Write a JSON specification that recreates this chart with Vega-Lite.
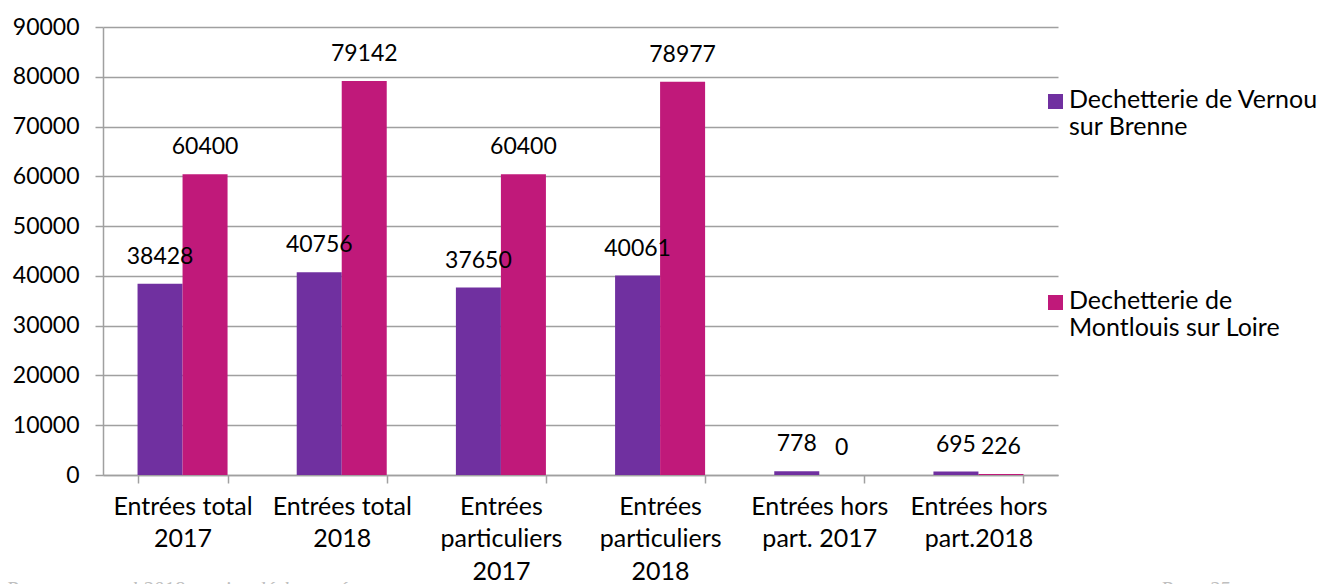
{
  "$schema": "https://vega.github.io/schema/vega-lite/v6.json",
  "width": 955,
  "height": 448,
  "autosize": {"type": "none"},
  "padding": {"left": 103, "top": 27, "right": 260, "bottom": 109},
  "background": "white",
  "config": {
    "view": {"stroke": null},
    "font": "Lato",
    "title": {"font": "Liberation Serif", "fontStyle": "italic", "fontWeight": "normal", "fontSize": 21, "color": "#BFBFBF"}
  },
  "title": {"text": "Rapport annuel 2018 service déchets ménagers", "orient": "bottom", "anchor": "start", "frame": "group", "dx": -97, "offset": -20},
  "data": {
    "values": [
      {"categorie": "Entrées total 2017", "site": "Dechetterie de Vernou sur Brenne", "entrees": 38428},
      {"categorie": "Entrées total 2017", "site": "Dechetterie de Montlouis sur Loire", "entrees": 60400},
      {"categorie": "Entrées total 2018", "site": "Dechetterie de Vernou sur Brenne", "entrees": 40756},
      {"categorie": "Entrées total 2018", "site": "Dechetterie de Montlouis sur Loire", "entrees": 79142},
      {"categorie": "Entrées particuliers 2017", "site": "Dechetterie de Vernou sur Brenne", "entrees": 37650},
      {"categorie": "Entrées particuliers 2017", "site": "Dechetterie de Montlouis sur Loire", "entrees": 60400},
      {"categorie": "Entrées particuliers 2018", "site": "Dechetterie de Vernou sur Brenne", "entrees": 40061},
      {"categorie": "Entrées particuliers 2018", "site": "Dechetterie de Montlouis sur Loire", "entrees": 78977},
      {"categorie": "Entrées hors part. 2017", "site": "Dechetterie de Vernou sur Brenne", "entrees": 778},
      {"categorie": "Entrées hors part. 2017", "site": "Dechetterie de Montlouis sur Loire", "entrees": 0},
      {"categorie": "Entrées hors part.2018", "site": "Dechetterie de Vernou sur Brenne", "entrees": 695},
      {"categorie": "Entrées hors part.2018", "site": "Dechetterie de Montlouis sur Loire", "entrees": 226}
    ]
  },
  "encoding": {
    "x": {
      "field": "categorie",
      "type": "nominal",
      "sort": null,
      "scale": {"paddingInner": 0.4345, "paddingOuter": 0.217},
      "axis": {
        "title": "Page 25",
        "titleX": 1057,
        "titleY": 103,
        "titleAlign": "left",
        "titleBaseline": "top",
        "titleAngle": 0,
        "titleFont": "Liberation Serif",
        "titleFontStyle": "italic",
        "titleFontWeight": "normal",
        "titleFontSize": 21,
        "titleColor": "#BFBFBF",
        "labelAngle": 0,
        "labelFontSize": 25,
        "labelColor": "#000000",
        "labelLineHeight": 32.5,
        "labelPadding": 11,
        "labelLimit": 0,
        "labelBaseline": "top",
        "labelExpr": "datum.label == 'Entrées total 2017' ? ['Entrées total', '2017'] : datum.label == 'Entrées total 2018' ? ['Entrées total', '2018'] : datum.label == 'Entrées particuliers 2017' ? ['Entrées', 'particuliers', '2017'] : datum.label == 'Entrées particuliers 2018' ? ['Entrées', 'particuliers', '2018'] : datum.label == 'Entrées hors part. 2017' ? ['Entrées hors', 'part. 2017'] : datum.label == 'Entrées hors part.2018' ? ['Entrées hors', 'part.2018'] : ''",
        "tickBand": "extent",
        "tickSize": 8,
        "tickColor": "#A0A0A0",
        "tickWidth": 1.5,
        "domainColor": "#A0A0A0",
        "domainWidth": 1.5,
        "grid": false
      }
    },
    "xOffset": {"field": "site", "type": "nominal", "sort": ["Dechetterie de Vernou sur Brenne", "Dechetterie de Montlouis sur Loire"]},
    "y": {
      "field": "entrees",
      "type": "quantitative",
      "scale": {"domain": [0, 90000], "nice": false},
      "axis": {
        "title": null,
        "values": [0, 10000, 20000, 30000, 40000, 50000, 60000, 70000, 80000, 90000],
        "format": "d",
        "labelFontSize": 23,
        "labelColor": "#000000",
        "labelPadding": 16,
        "tickSize": 8,
        "tickColor": "#A0A0A0",
        "tickWidth": 1.5,
        "domainColor": "#A0A0A0",
        "domainWidth": 1.5,
        "gridColor": "#A0A0A0",
        "gridWidth": 1.5
      }
    }
  },
  "layer": [
    {
      "mark": {"type": "bar"},
      "encoding": {
        "color": {
          "field": "site",
          "type": "nominal",
          "sort": ["Dechetterie de Vernou sur Brenne", "Dechetterie de Montlouis sur Loire"],
          "scale": {"domain": ["Dechetterie de Vernou sur Brenne", "Dechetterie de Montlouis sur Loire"], "range": ["#7030A0", "#C0197A"]},
          "legend": {
            "title": null,
            "orient": "none",
            "legendX": 940,
            "legendY": 68,
            "symbolType": "M-1,-1.8H1V0.2H-1Z",
            "symbolSize": 225,
            "symbolStrokeWidth": 0,
            "labelFontSize": 25,
            "labelColor": "#000000",
            "labelLineHeight": 32,
            "labelLimit": 400,
            "labelOffset": 1,
            "labelBaseline": "alphabetic",
            "rowPadding": 148,
            "labelExpr": "datum.label == 'Dechetterie de Vernou sur Brenne' ? ['Dechetterie de Vernou', 'sur Brenne'] : ['Dechetterie de', 'Montlouis sur Loire']"
          }
        }
      }
    },
    {
      "mark": {"type": "text", "baseline": "alphabetic", "dy": -20, "fontSize": 23, "color": "#000000"},
      "encoding": {"text": {"field": "entrees", "type": "quantitative", "format": "d"}}
    }
  ]
}
